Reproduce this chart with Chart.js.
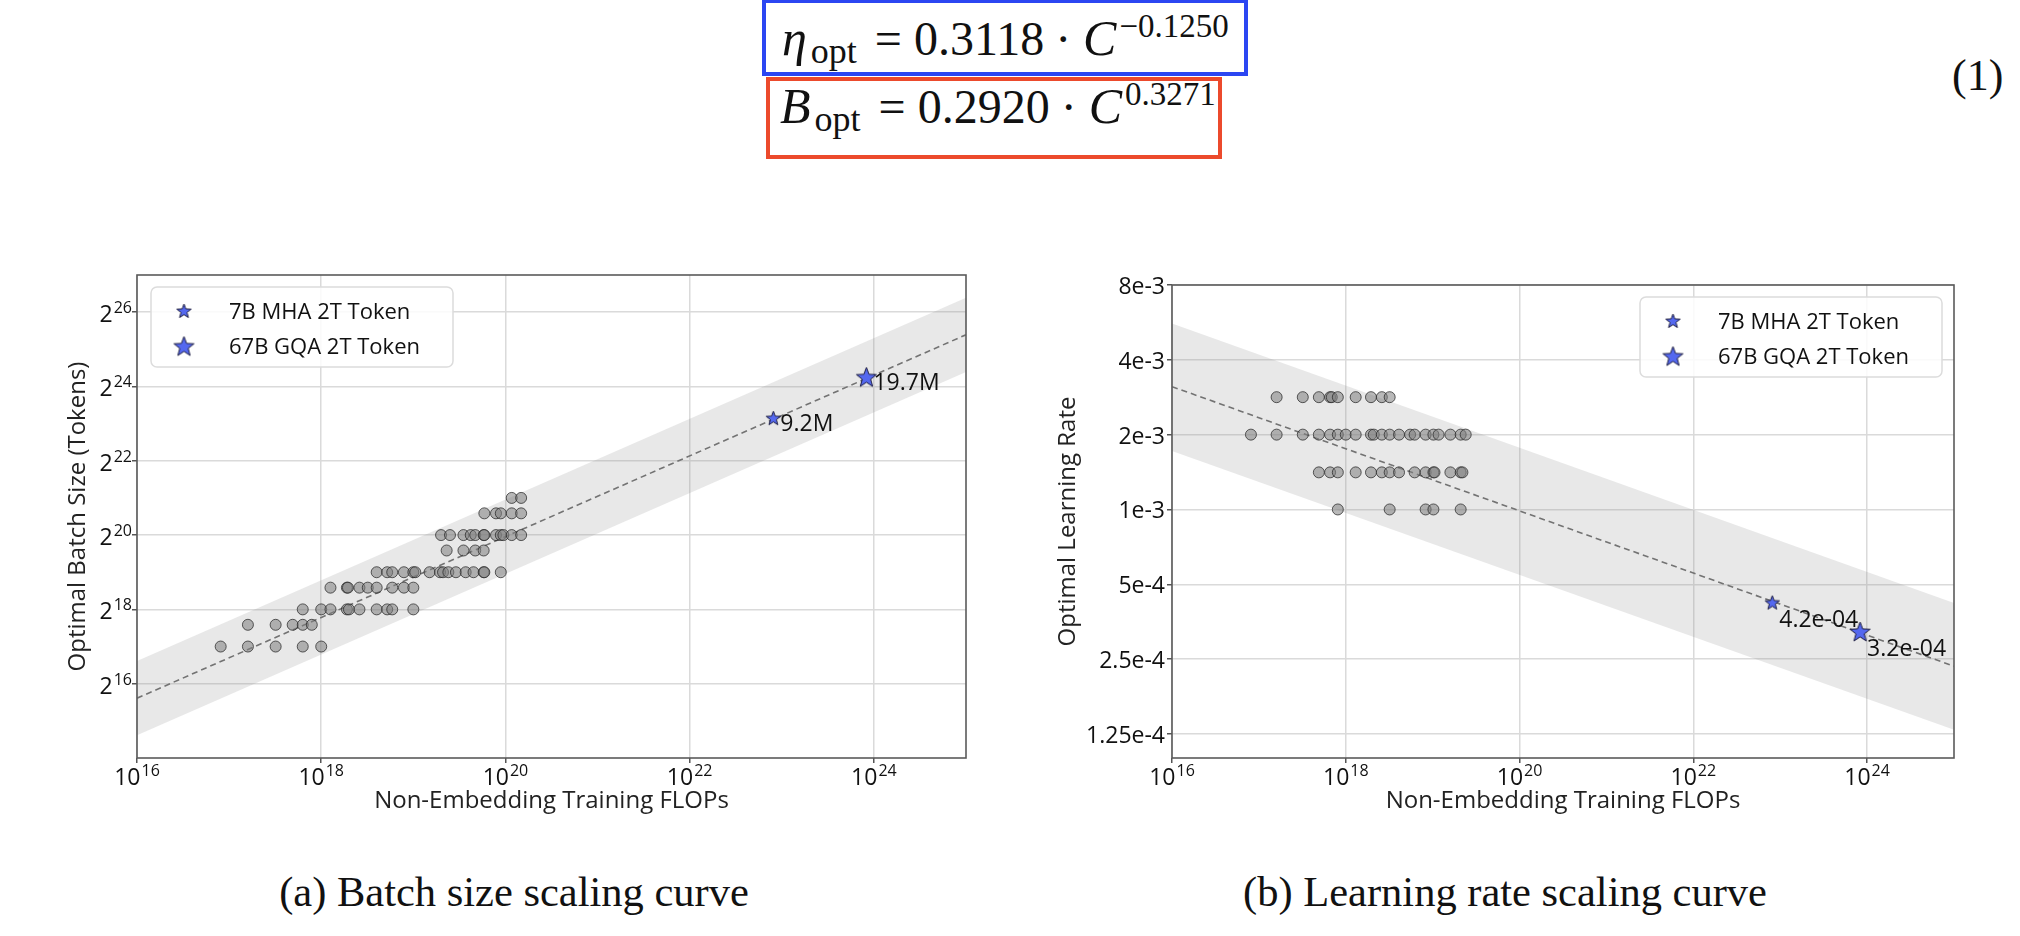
<!DOCTYPE html>
<html>
<head>
<meta charset="utf-8">
<script src="https://cdn.jsdelivr.net/npm/chart.js@4.4.1/dist/chart.umd.min.js"></script>
<style>
  body { margin: 0; background: #fff; }
  #page { position: relative; width: 2020px; height: 936px; overflow: hidden; background: #fff;
          font-family: "Liberation Serif", serif; color: #111; }
  .eqbox { position: absolute; box-sizing: border-box; border: 4px solid; }
  .eq { position: absolute; white-space: nowrap; font-size: 48px; line-height: 48px; }
  .eq i { font-size: 50px; }
  .eq sub { font-size: 36px; vertical-align: -8px; line-height: 0; margin-left: 4px; margin-right: 18px; }
  .eq sup { font-size: 33px; vertical-align: 18px; line-height: 0; margin-left: 3px; }
  .eq .op { margin: 0 12px 0 0; }
  .eq .dot { margin: 0 12px 0 11px; }
  .caption { position: absolute; width: 800px; text-align: center; font-size: 42.5px; line-height: 40px; white-space: nowrap; }
  canvas { position: absolute; }
</style>
</head>
<body>
<div id="page">
  <div class="eqbox" style="left:762px; top:-1px; width:486px; height:77px; border-color:#2b46f2;"></div>
  <div class="eqbox" style="left:766px; top:77px; width:456px; height:82px; border-color:#ec4a2c;"></div>
  <div class="eq" style="left:782px; top:14px;"><i>η</i><sub>opt</sub><span class="op">=</span>0.3118<span class="dot">·</span><i>C</i><sup>−0.1250</sup></div>
  <div class="eq" style="left:780px; top:82px;"><i>B</i><sub>opt</sub><span class="op">=</span>0.2920<span class="dot">·</span><i>C</i><sup>0.3271</sup></div>
  <div class="eq" style="left:1952px; top:52px; font-size:44px;">(1)</div>

  <canvas id="batchChart" width="1000" height="580" style="left:0px; top:250px;"></canvas>
  <canvas id="lrChart" width="1020" height="580" style="left:1000px; top:250px;"></canvas>

  <div class="caption" style="left:114px; top:872px;">(a) Batch size scaling curve</div>
  <div class="caption" style="left:1105px; top:872px;">(b) Learning rate scaling curve</div>
</div>

<script>
// ============================================
// DATA
// ============================================

const flopsRange = [1e16, 1e25];
const flopsTicks = [1e16, 1e18, 1e20, 1e22, 1e24];

const modelNames = ['7B MHA 2T Token', '67B GQA 2T Token'];
const modelFlops = [8.1e22, 8.3e23];
const modelBatch = [9.2e6, 19.7e6];
const modelBatchLabels = ['9.2M', '19.7M'];
const modelLR = [4.2e-4, 3.2e-4];
const modelLRLabels = ['4.2e-04', '3.2e-04'];

// (a) batch size: one row of FLOPs per batch size level
const batchLevels = [131072, 196608, 262144, 393216, 524288, 786432, 1048576, 1572864, 2097152];
const batchFlops = [
    [8.1e16, 1.6e17, 3.2e17, 6.3e17, 1.0e18],
    [1.6e17, 3.2e17, 4.9e17, 6.3e17, 7.9e17],
    [6.3e17, 1.0e18, 1.26e18, 1.9e18, 2.0e18, 2.6e18, 4.0e18, 5.2e18, 5.9e18, 1.0e19],
    [1.26e18, 1.9e18, 1.95e18, 2.6e18, 3.2e18, 4.0e18, 5.9e18, 7.9e18, 1.0e19],
    [4.0e18, 5.2e18, 5.9e18, 7.9e18, 1.0e19, 1.05e19, 1.5e19, 1.95e19, 2.1e19, 2.4e19, 2.9e19, 3.7e19, 4.5e19, 5.8e19, 5.9e19, 8.9e19],
    [2.3e19, 3.5e19, 4.7e19, 5.8e19],
    [2.0e19, 2.5e19, 3.5e19, 4.2e19, 4.7e19, 5.8e19, 5.9e19, 7.9e19, 8.9e19, 9.5e19, 1.17e20, 1.48e20],
    [5.9e19, 7.9e19, 8.9e19, 1.17e20, 1.48e20],
    [1.17e20, 1.48e20]
];
const batchFit = [5.0e4, 4.4e7];
const batchBandLow = [2.5e4, 2.2e7];
const batchBandHigh = [1.0e5, 8.8e7];
const batchRange = [16384, 134217728];
const batchTicks = [65536, 262144, 1048576, 4194304, 16777216, 67108864];

// (b) learning rate: one row of FLOPs per learning rate level
const lrLevels = [2.83e-3, 2.0e-3, 1.41e-3, 1.0e-3];
const lrFlops = [
    [1.6e17, 3.2e17, 4.9e17, 6.6e17, 6.9e17, 8.1e17, 1.3e18, 1.95e18, 2.6e18, 3.2e18],
    [8.1e16, 1.6e17, 3.2e17, 4.9e17, 6.6e17, 8.1e17, 1.0e18, 1.3e18, 1.95e18, 2.1e18, 2.6e18, 3.2e18, 4.1e18, 5.5e18, 6.2e18, 8.3e18, 1.02e19, 1.17e19, 1.6e19, 2.1e19, 2.4e19],
    [4.9e17, 6.6e17, 8.1e17, 1.3e18, 1.95e18, 2.6e18, 3.2e18, 4.1e18, 6.2e18, 8.3e18, 1.02e19, 1.05e19, 1.6e19, 2.1e19, 2.2e19],
    [8.1e17, 3.2e18, 8.3e18, 1.02e19, 2.1e19]
];
const lrFit = [3.12e-3, 2.34e-4];
const lrBandLow = [1.72e-3, 1.3e-4];
const lrBandHigh = [5.6e-3, 4.2e-4];
const lrRange = [1e-4, 8e-3];
const lrTicks = [1.25e-4, 2.5e-4, 5e-4, 1e-3, 2e-3, 4e-3, 8e-3];
const lrTickLabels = ['1.25e-4', '2.5e-4', '5e-4', '1e-3', '2e-3', '4e-3', '8e-3'];

// ============================================
// HELPERS
// ============================================

const SANS = '"Open Sans", "DejaVu Sans", sans-serif';

function starImage(r) {
    const size = Math.ceil(r * 2 + 4);
    const c = document.createElement('canvas');
    c.width = size; c.height = size;
    const g = c.getContext('2d');
    g.translate(size / 2, size / 2);
    g.beginPath();
    for (let i = 0; i < 10; i++) {
        const rad = i % 2 ? r * 0.42 : r;
        const a = -Math.PI / 2 + i * Math.PI / 5;
        g.lineTo(rad * Math.cos(a), rad * Math.sin(a));
    }
    g.closePath();
    g.fillStyle = '#5468ef';
    g.fill();
    g.lineWidth = 1;
    g.strokeStyle = '#1c1c40';
    g.stroke();
    return c;
}
const stars = [starImage(7.5), starImage(10.5)];

// base + superscript, e.g. 10^16
function drawPower(ctx, base, exp, x, baseline, align) {
    ctx.font = '23px ' + SANS;
    const wb = ctx.measureText(base).width;
    ctx.font = '16px ' + SANS;
    const we = ctx.measureText(exp).width;
    const total = wb + 1 + we;
    let left = align === 'center' ? x - total / 2 : x - total;
    ctx.textAlign = 'left';
    ctx.textBaseline = 'alphabetic';
    ctx.font = '23px ' + SANS;
    ctx.fillText(base, left, baseline);
    ctx.font = '16px ' + SANS;
    ctx.fillText(exp, left + wb + 1, baseline - 9);
}

function rows(levels, flopsRows) {
    const pts = [];
    levels.forEach((lv, i) => flopsRows[i].forEach(f => pts.push({ x: f, y: lv })));
    return pts;
}

function pair(ys) {
    return flopsRange.map((x, i) => ({ x: x, y: ys[i] }));
}

// ============================================
// CHART
// ============================================

function makeChart(id, cfg) {
    const ctx = document.getElementById(id).getContext('2d');

    const plotFrame = {
        id: 'plotFrame',
        afterDatasetsDraw(chart) {
            const a = chart.chartArea, c = chart.ctx;
            c.save();
            c.strokeStyle = '#5a5a5a';
            c.lineWidth = 1.6;
            c.strokeRect(a.left, a.top, a.right - a.left, a.bottom - a.top);
            c.restore();
        }
    };

    const tickText = {
        id: 'tickText',
        afterDraw(chart) {
            const c = chart.ctx, xs = chart.scales.x, ys = chart.scales.y;
            c.save();
            c.fillStyle = '#111';
            xs.ticks.forEach(t => {
                drawPower(c, '10', String(Math.round(Math.log10(t.value))), xs.getPixelForValue(t.value), xs.top + 27, 'center');
            });
            ys.ticks.forEach((t, i) => {
                const py = ys.getPixelForValue(t.value);
                if (cfg.yLabels) {
                    c.font = '23px ' + SANS;
                    c.textAlign = 'right';
                    c.textBaseline = 'alphabetic';
                    c.fillText(cfg.yLabels[i], chart.chartArea.left - 7, py + 9);
                } else {
                    drawPower(c, '2', String(Math.round(Math.log2(t.value))), chart.chartArea.left - 5, py + 10, 'right');
                }
            });
            c.restore();
        }
    };

    const starLabels = {
        id: 'starLabels',
        afterDatasetsDraw(chart) {
            const c = chart.ctx;
            c.save();
            c.fillStyle = '#111';
            c.font = '23px ' + SANS;
            c.textAlign = 'left';
            c.textBaseline = 'alphabetic';
            [0, 1].forEach(i => {
                const p = chart.getDatasetMeta(i).data[0];
                c.fillText(cfg.starText[i], p.x + 7, p.y + cfg.starDy);
            });
            c.restore();
        }
    };

    const insetLegend = {
        id: 'insetLegend',
        afterDraw(chart) {
            const a = chart.chartArea, c = chart.ctx;
            const w = 302, h = 80;
            const left = cfg.legendSide === 'left' ? a.left + 14 : a.right - 12 - w;
            const top = a.top + 12;
            c.save();
            c.beginPath();
            c.roundRect(left, top, w, h, 6);
            c.fillStyle = 'rgba(255,255,255,0.85)';
            c.fill();
            c.strokeStyle = '#dcdcdc';
            c.lineWidth = 1.5;
            c.stroke();
            c.fillStyle = '#111';
            c.font = '22px ' + SANS;
            c.textAlign = 'left';
            c.textBaseline = 'middle';
            [0, 1].forEach(i => {
                const ds = chart.data.datasets[i];
                const cy = top + 24.5 + i * 35.5;
                const img = stars[i];
                c.drawImage(img, left + 33 - img.width / 2, cy - img.height / 2);
                c.fillText(ds.label, left + 78, cy + 1);
            });
            c.restore();
        }
    };

    return new Chart(ctx, {
        type: 'line',
        data: {
            datasets: [
                { label: modelNames[0], data: [{ x: modelFlops[0], y: cfg.starY[0] }], showLine: false, pointStyle: stars[0], pointRadius: 8 },
                { label: modelNames[1], data: [{ x: modelFlops[1], y: cfg.starY[1] }], showLine: false, pointStyle: stars[1], pointRadius: 11 },
                { label: 'runs', data: cfg.points, showLine: false, pointRadius: 5.5,
                  backgroundColor: 'rgba(128,128,128,0.55)', borderColor: 'rgba(40,40,40,0.75)', borderWidth: 1 },
                { label: 'fit', data: pair(cfg.fit), borderColor: '#737373', borderWidth: 1.6, borderDash: [6, 4], pointRadius: 0 },
                { label: 'band', data: pair(cfg.high), borderWidth: 0, pointRadius: 0, fill: '+1', backgroundColor: 'rgba(140,140,140,0.2)' },
                { label: 'bandLow', data: pair(cfg.low), borderWidth: 0, pointRadius: 0, fill: false }
            ]
        },
        options: {
            responsive: false,
            animation: false,
            layout: { padding: cfg.padding },
            scales: {
                x: {
                    type: 'logarithmic', min: flopsRange[0], max: flopsRange[1],
                    afterBuildTicks: s => { s.ticks = flopsTicks.map(v => ({ value: v })); },
                    afterFit: s => { s.height = cfg.xHeight; },
                    ticks: { display: false },
                    grid: { color: '#dadada', lineWidth: 1.5, tickLength: 5, tickColor: '#555' },
                    border: { display: false },
                    title: { display: true, text: 'Non-Embedding Training FLOPs', color: '#222',
                             font: { family: SANS, size: 24 }, padding: { top: 0, bottom: 14 } }
                },
                y: {
                    type: 'logarithmic', min: cfg.yRange[0], max: cfg.yRange[1],
                    afterBuildTicks: s => { s.ticks = cfg.yTicks.map(v => ({ value: v })); },
                    afterFit: s => { s.width = cfg.yWidth; },
                    ticks: { display: false },
                    grid: { color: '#dadada', lineWidth: 1.5, tickLength: 5, tickColor: '#555' },
                    border: { display: false },
                    title: { display: true, text: cfg.yTitle, color: '#222',
                             font: { family: SANS, size: 24 }, padding: { top: cfg.yTitlePad, bottom: 0 } }
                }
            },
            plugins: {
                legend: { display: false },
                tooltip: { enabled: false }
            }
        },
        plugins: [plotFrame, tickText, starLabels, insetLegend]
    });
}

makeChart('batchChart', {
    points: rows(batchLevels, batchFlops),
    fit: batchFit, low: batchBandLow, high: batchBandHigh,
    starY: modelBatch, starText: modelBatchLabels, starDy: 12,
    yRange: batchRange, yTicks: batchTicks, yLabels: null,
    yTitle: 'Optimal Batch Size (Tokens)', yTitlePad: 64,
    padding: { top: 25, right: 34, left: 0, bottom: 0 },
    yWidth: 137, xHeight: 72, legendSide: 'left'
});

makeChart('lrChart', {
    points: rows(lrLevels, lrFlops),
    fit: lrFit, low: lrBandLow, high: lrBandHigh,
    starY: modelLR, starText: modelLRLabels, starDy: 24,
    yRange: lrRange, yTicks: lrTicks, yLabels: lrTickLabels,
    yTitle: 'Optimal Learning Rate', yTitlePad: 54,
    padding: { top: 35, right: 66, left: 0, bottom: 0 },
    yWidth: 172, xHeight: 72, legendSide: 'right'
});
</script>
</body>
</html>
